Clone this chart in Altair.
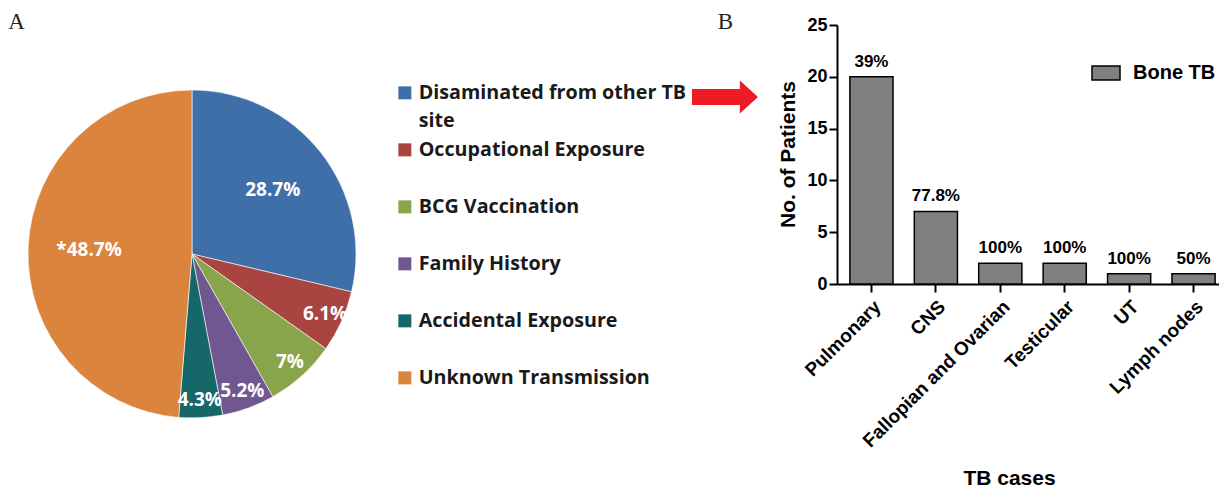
import altair as alt
import pandas as pd

# ---- Panel A data (pie) ----
pie_categories = ["Disaminated from other TB site", "Occupational Exposure", "BCG Vaccination",
                  "Family History", "Accidental Exposure", "Unknown Transmission"]
pie_values = [28.7, 6.1, 7.0, 5.2, 4.3, 48.7]
pie_labels = ["28.7%", "6.1%", "7%", "5.2%", "4.3%", "*48.7%"]
pie_colors = ["#3F6FA9", "#A94441", "#88A54C", "#70578F", "#15676A", "#DB843D"]

# ---- Panel B data (bars) ----
bar_categories = ["Pulmonary", "CNS", "Fallopian and Ovarian", "Testicular", "UT", "Lymph nodes"]
bar_values = [20, 7, 2, 2, 1, 1]
bar_labels = ["39%", "77.8%", "100%", "100%", "100%", "50%"]
bar_series = ["Bone TB"] * len(bar_categories)

pie_df = pd.DataFrame({"category": pie_categories, "value": pie_values,
                       "label": pie_labels, "idx": list(range(len(pie_categories)))})
bar_df = pd.DataFrame({"case": bar_categories, "patients": bar_values,
                       "pct": bar_labels, "series": bar_series})

W, H = 1211, 480
CX, CY, R = 184, 246, 164
theta_scale = alt.Scale(domain=[0, 100])

arcs = alt.Chart(pie_df).mark_arc(outerRadius=R, stroke="white", strokeWidth=0.6).encode(
    theta=alt.Theta("value:Q", stack=True, scale=theta_scale),
    order=alt.Order("idx:Q"),
    x=alt.value(CX), y=alt.value(CY),
    color=alt.Color(
        "category:N",
        scale=alt.Scale(domain=pie_categories, range=pie_colors),
        legend=alt.Legend(
            orient="none", legendX=387, legendY=75, title=None,
            symbolType="square", symbolSize=169, symbolStrokeWidth=0,
            labelFont="Open Sans", labelFontSize=19.7, labelFontWeight="bold", labelColor="#1a1a1a",
            labelOffset=4, labelLimit=500, rowPadding=8, padding=0,
            labelExpr="datum.label == 'Disaminated from other TB site' ? ['Disaminated from other TB', 'site'] : [datum.label, ' ']",
        ),
    ),
)

pie_text = alt.Chart(pie_df).transform_window(
    cum="sum(value)", sort=[alt.SortField("idx")]
).transform_calculate(
    mid="datum.cum - datum.value / 2",
    rr="datum.value > 20 ? 103 : 146",
).mark_text(font="Open Sans", fontSize=19, fontWeight="bold", color="white").encode(
    theta=alt.Theta("mid:Q", stack=False, scale=theta_scale),
    x=alt.value(CX), y=alt.value(CY),
    radius=alt.Radius("rr:Q", scale=None),
    text="label:N",
)

x_enc = alt.X(
    "case:N", sort=bar_categories,
    scale=alt.Scale(range=[829, 1220], paddingInner=0.33, paddingOuter=0.2),
    axis=alt.Axis(
        title="TB cases", offset=-(H - 276), labelAngle=-45, labelFont="Liberation Sans",
        labelFontSize=19, labelFontWeight="bold", labelColor="black", labelPadding=5, labelLimit=400,
        tickSize=8, tickWidth=2, tickColor="black", domainColor="black", domainWidth=2,
        titleFont="Liberation Sans", titleFontSize=21, titleFontWeight="bold", titleColor="black",
        titleX=1001, titleY=200, titleBaseline="alphabetic", titleAlign="center",
    ),
)
y_enc = alt.Y(
    "patients:Q",
    scale=alt.Scale(domain=[0, 25], range=[276, 17], nice=False),
    axis=alt.Axis(
        title="No. of Patients", offset=-829, values=[0, 5, 10, 15, 20, 25], grid=False,
        labelFont="Liberation Sans", labelFontSize=18, labelFontWeight="bold", labelColor="black",
        labelPadding=2, tickSize=8, tickWidth=2, tickColor="black", domainColor="black", domainWidth=2,
        titleFont="Liberation Sans", titleFontSize=21, titleFontWeight="bold", titleColor="black",
        titleX=-49, titleY=146, titleBaseline="middle", titleAlign="center",
    ),
)

bars = alt.Chart(bar_df).mark_bar(stroke="black", strokeWidth=1.5).encode(
    x=x_enc, y=y_enc,
    color=alt.Color(
        "series:N",
        scale=alt.Scale(domain=["Bone TB"], range=["#808080"]),
        legend=alt.Legend(
            orient="none", legendX=1083, legendY=50, title=None,
            symbolType="M-1,-0.5H1V0.5H-1Z", symbolSize=784,
            symbolStrokeColor="black", symbolStrokeWidth=1.5, symbolFillColor="#808080",
            labelFont="Liberation Sans", labelFontSize=20, labelFontWeight="bold", labelColor="black",
            labelOffset=12, padding=0,
        ),
    ),
)

bar_text = alt.Chart(bar_df).mark_text(
    font="Liberation Sans", fontSize=17, fontWeight="bold", color="black", baseline="bottom", dy=-6
).encode(x=x_enc, y=y_enc, text="pct:N")

blank = alt.Data(values=[{}])
arrow = alt.Chart(blank).mark_point(
    shape="M-1,-0.24L0.45,-0.24L0.45,-0.5L1,0L0.45,0.5L0.45,0.24L-1,0.24Z",
    size=4356, filled=True, color="#ED1C24", opacity=1, strokeWidth=0,
).encode(x=alt.value(717), y=alt.value(89))

label_a = alt.Chart(blank).mark_text(
    text="A", font="Liberation Serif", fontSize=23, baseline="middle", align="center", color="#222"
).encode(x=alt.value(8.5), y=alt.value(14))
label_b = alt.Chart(blank).mark_text(
    text="B", font="Liberation Serif", fontSize=23, baseline="middle", align="center", color="#222"
).encode(x=alt.value(717.5), y=alt.value(14))

chart = alt.layer(arcs, pie_text, bars, bar_text, arrow, label_a, label_b).resolve_scale(
    color="independent"
).properties(
    width=W, height=H, autosize=alt.AutoSizeParams(type="none"), padding=0
).configure(
    view=alt.ViewConfig(stroke=None),
    style={"guide-label": {"lineHeight": 28}},
)

chart.save("out.html", embed_options={"renderer": "svg", "actions": False})
